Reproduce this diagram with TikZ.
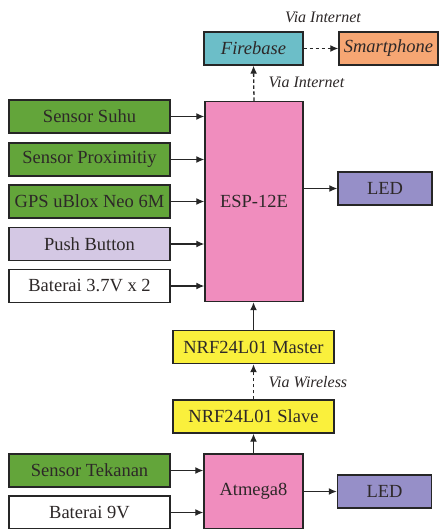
\documentclass[tikz,border=0pt]{standalone}
\usepackage{fontspec}
\setmainfont{Liberation Serif}
\usepackage{tikz}
\usetikzlibrary{arrows.meta}
\definecolor{hijau}{RGB}{99,165,58}
\definecolor{merahmuda}{RGB}{240,141,190}
\definecolor{biru}{RGB}{108,190,200}
\definecolor{oranye}{RGB}{246,166,115}
\definecolor{ungu}{RGB}{150,143,200}
\definecolor{lavender}{RGB}{212,200,228}
\definecolor{kuning}{RGB}{250,240,60}
\definecolor{teks}{RGB}{45,40,40}
\tikzstyle{arrow} = [-{Latex[length=8pt,width=7pt]},line width=1.3pt,draw=black!85]
\tikzstyle{link} = [arrow,dash pattern=on 3.5pt off 2.5pt]
\tikzstyle{block} = [draw=black!85,line width=1.4pt,inner sep=0pt,minimum height=33pt,text=teks,font=\fontsize{18.5}{20}\selectfont]
\tikzstyle{via} = [text=teks,font=\fontsize{16}{18}\selectfont\itshape]

\begin{document}
\begin{tikzpicture}[x=1pt,y=-1pt]
        \useasboundingbox (0,0) rectangle (443,529);
        % cloud side
        \node[block, fill=biru, minimum width=99pt, font=\fontsize{18.5}{20}\selectfont\itshape] at (253.5,48.5) (fb) {Firebase};
        \node[block, fill=oranye, minimum width=99pt, font=\fontsize{18.5}{20}\selectfont\itshape] at (388.5,48.5) (sp) {Smartphone};
        \node[via] at (323,17) (via1) {Via Internet};

        % master side
        \node[block, fill=merahmuda, minimum width=98pt, minimum height=200pt] at (254,201.5) (esp) {ESP-12E};
        \node[block, fill=hijau, minimum width=161pt] at (89.5,116.5) (suhu) {Sensor Suhu};
        \node[block, fill=hijau, minimum width=161pt] at (89.5,159.5) (prox) {Sensor Proximitiy};
        \node[block, fill=hijau, minimum width=161pt] at (89.5,201.5) (gps) {GPS uBlox Neo 6M};
        \node[block, fill=lavender, minimum width=161pt] at (89.5,244) (push) {Push Button};
        \node[block, fill=white, minimum width=161pt] at (89.5,286) (bat1) {Baterai 3.7V x 2};
        \node[block, fill=ungu, minimum width=94pt] at (385,188.5) (led1) {LED};
        \node[via, anchor=west] at (265,82) (via2) {Via Internet};

        % radio link
        \node[block, fill=kuning, minimum width=161pt] at (253.5,347) (master) {NRF24L01 Master};
        \node[block, fill=kuning, minimum width=161pt] at (253.5,416.5) (slave) {NRF24L01 Slave};
        \node[via, anchor=west] at (265,382) (via3) {Via Wireless};

        % slave side
        \node[block, fill=merahmuda, minimum width=99pt, minimum height=75pt] at (253.5,491.5) (atmega) {Atmega8};
        \node[block, fill=hijau, minimum width=161pt] at (89.5,470.5) (tekanan) {Sensor Tekanan};
        \node[block, fill=white, minimum width=161pt] at (89.5,512.5) (bat2) {Baterai 9V};
        \node[block, fill=ungu, minimum width=94pt] at (384.5,491.5) (led2) {LED};

        \draw[link] (fb) -- (sp);
        \draw[link] (esp.north) -- (fb.south);
        \foreach \src in {suhu,prox,gps,push,bat1}
            \draw[arrow] (\src) -- (\src -| esp.west);
        \draw[arrow] (esp.east |- led1) -- (led1);
        \draw[arrow] (master.north) -- (master |- esp.south);
        \draw[link] (slave.north) -- (master.south);
        \draw[arrow] (atmega.north) -- (slave.south);
        \draw[arrow] (tekanan) -- (tekanan -| atmega.west);
        \draw[arrow] (bat2) -- (bat2 -| atmega.west);
        \draw[arrow] (atmega) -- (led2);
    \end{tikzpicture}
\end{document}
